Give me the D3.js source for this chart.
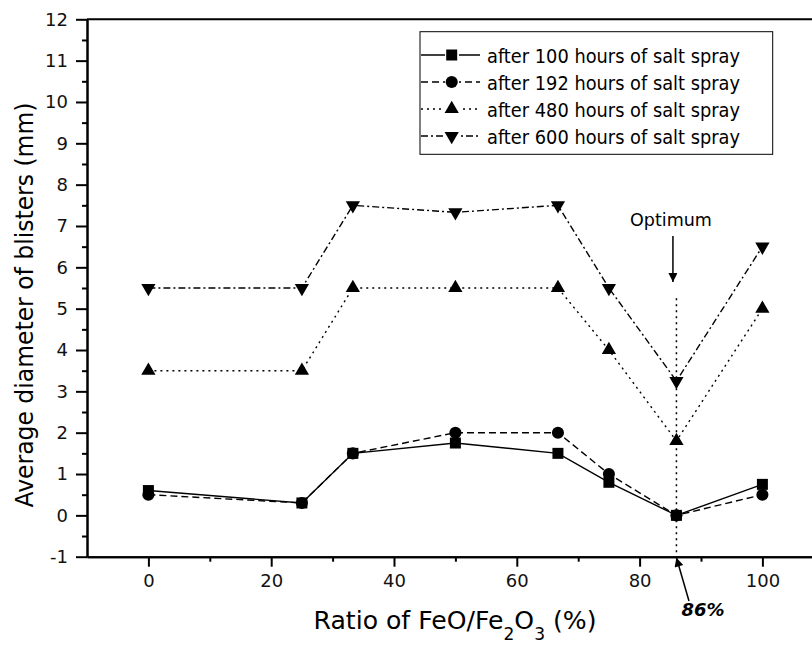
<!DOCTYPE html>
<html>
<head>
<meta charset="utf-8">
<script src="https://cdn.jsdelivr.net/npm/d3@7"></script>
<style>
  body { margin: 0; background: #fff; }
  svg { display: block; font-family: "DejaVu Sans", Verdana, sans-serif; }
</style>
</head>
<body>
<svg id="chart" width="812" height="645"></svg>
<script>
// data
const ratios = [0, 25, 33.3, 50, 66.7, 75, 86, 100];
const h100 = [0.6, 0.3, 1.5, 1.75, 1.5, 0.8, 0, 0.75];
const h192 = [0.5, 0.3, 1.5, 2, 2, 1, 0, 0.5];
const h480 = [3.5, 3.5, 5.5, 5.5, 5.5, 4, 1.8, 5];
const h600 = [5.5, 5.5, 7.5, 7.33, 7.5, 5.5, 3.25, 6.5];
const seriesNames = ["after 100 hours of salt spray", "after 192 hours of salt spray",
                     "after 480 hours of salt spray", "after 600 hours of salt spray"];
const xTicks = [0, 20, 40, 60, 80, 100];
const xMinor = [10, 30, 50, 70, 90];
const yTicks = d3.range(-1, 13);
const yMinor = d3.range(-0.5, 12, 1);
const optimum = 86;

const svg = d3.select('#chart');

// scales
const x = d3.scaleLinear().domain([-10, 110]).range([87, 823.8]);
const y = d3.scaleLinear().domain([-1, 12]).range([556.7, 19.3]);

const series = [
  { name: seriesNames[0], values: h100, dash: null,      sym: d3.symbolSquare,   size: 121, rot: 0 },
  { name: seriesNames[1], values: h192, dash: '7,4',     sym: d3.symbolCircle,   size: 115, rot: 0 },
  { name: seriesNames[2], values: h480, dash: '2,4',     sym: d3.symbolTriangle, size: 88,  rot: 0 },
  { name: seriesNames[3], values: h600, dash: '7,3,2,3', sym: d3.symbolTriangle, size: 88,  rot: 180 }
];

// optimum guide line
svg.append('line')
  .attr('x1', x(optimum)).attr('x2', x(optimum))
  .attr('y1', y(5.25)).attr('y2', y(-1))
  .attr('stroke', '#000').attr('stroke-width', 1.5).attr('stroke-dasharray', '2,4');

const line = d3.line()
  .x((d, i) => x(ratios[i]))
  .y(d => y(d));

// lines, drawn back to front
series.slice().reverse().forEach(s => {
  svg.append('path')
    .attr('d', line(s.values))
    .attr('fill', 'none')
    .attr('stroke', '#000')
    .attr('stroke-width', 1.4)
    .attr('stroke-dasharray', s.dash);
});
series.slice().reverse().forEach(s => {
  svg.append('g').selectAll('path')
    .data(s.values)
    .join('path')
    .attr('d', d3.symbol().type(s.sym).size(s.size))
    .attr('transform', (d, i) => `translate(${x(ratios[i])},${y(d)}) rotate(${s.rot})`)
    .attr('fill', '#000');
});

// axes
const fmt = d => String(d);
svg.append('g')
  .attr('transform', `translate(${x(-10)},0)`)
  .call(d3.axisLeft(y).tickValues(yTicks).tickFormat(fmt).tickSize(11).tickPadding(8).tickSizeOuter(0));
svg.append('g')
  .attr('transform', `translate(${x(-10)},0)`)
  .call(d3.axisLeft(y).tickValues(yMinor).tickSize(5).tickFormat('').tickSizeOuter(0));

svg.append('g')
  .attr('transform', `translate(0,${y(-1)})`)
  .call(d3.axisBottom(x).tickValues(xTicks).tickFormat(fmt).tickSize(10).tickPadding(8).tickSizeOuter(0));
svg.append('g')
  .attr('transform', `translate(0,${y(-1)})`)
  .call(d3.axisBottom(x).tickValues(xMinor).tickSize(5).tickFormat('').tickSizeOuter(0));

svg.selectAll('.domain, .tick line').attr('stroke', '#000').attr('stroke-width', 2);
svg.selectAll('.tick text').attr('font-size', 18).attr('font-family', '"DejaVu Sans", Verdana, sans-serif').attr('fill', '#111');

// top frame line
svg.append('line')
  .attr('x1', x(-10)).attr('x2', x(110))
  .attr('y1', y(12)).attr('y2', y(12))
  .attr('stroke', '#000').attr('stroke-width', 2);

// axis titles
svg.append('text')
  .attr('transform', `translate(33,305) rotate(-90)`)
  .attr('text-anchor', 'middle')
  .attr('font-size', 24)
  .attr('textLength', 405).attr('lengthAdjust', 'spacingAndGlyphs')
  .text('Average diameter of blisters (mm)');

const xt = svg.append('text')
  .attr('x', 455).attr('y', 629)
  .attr('text-anchor', 'middle')
  .attr('font-size', 25)
  .attr('textLength', 283).attr('lengthAdjust', 'spacingAndGlyphs');
xt.append('tspan').text('Ratio of FeO/Fe');
xt.append('tspan').attr('dy', 11).attr('font-size', 17).text('2');
xt.append('tspan').attr('dy', -11).text('O');
xt.append('tspan').attr('dy', 11).attr('font-size', 17).text('3');
xt.append('tspan').attr('dy', -11).text(' (%)');

// arrow head marker
svg.append('defs').append('marker')
  .attr('id', 'arrow')
  .attr('viewBox', '0 0 10 10')
  .attr('refX', 10).attr('refY', 5)
  .attr('markerWidth', 13).attr('markerHeight', 9)
  .attr('markerUnits', 'userSpaceOnUse')
  .attr('orient', 'auto')
  .append('path').attr('d', 'M0,0L10,5L0,10z').attr('fill', '#000');

// Optimum annotation
svg.append('text')
  .attr('x', 671).attr('y', 226)
  .attr('text-anchor', 'middle')
  .attr('font-size', 17.5)
  .text('Optimum');
svg.append('line')
  .attr('x1', x(optimum) - 3.5).attr('x2', x(optimum) - 3.5)
  .attr('y1', 236).attr('y2', 282)
  .attr('stroke', '#000').attr('stroke-width', 1.5)
  .attr('marker-end', 'url(#arrow)');

// 86% annotation
svg.append('line')
  .attr('x1', 689).attr('y1', 601)
  .attr('x2', x(optimum)).attr('y2', y(-1) + 1)
  .attr('stroke', '#000').attr('stroke-width', 1.5)
  .attr('marker-end', 'url(#arrow)');
svg.append('text')
  .attr('x', 703).attr('y', 616)
  .attr('text-anchor', 'middle')
  .attr('font-size', 18).attr('font-weight', 'bold').attr('font-style', 'italic')
  .text(optimum + '%');

// legend
const lg = svg.append('g');
lg.append('rect')
  .attr('x', 420).attr('y', 31.7).attr('width', 352.7).attr('height', 122.6)
  .attr('fill', '#fff').attr('stroke', '#000').attr('stroke-width', 1);
series.forEach((s, i) => {
  const cy = 55 + i * 27;
  lg.append('line')
    .attr('x1', 421).attr('x2', 480).attr('y1', cy).attr('y2', cy)
    .attr('stroke', '#000').attr('stroke-width', 1.4)
    .attr('stroke-dasharray', s.dash);
  lg.append('rect')
    .attr('x', 445).attr('y', cy - 8).attr('width', 14).attr('height', 16).attr('fill', '#fff');
  lg.append('path')
    .attr('d', d3.symbol().type(s.sym).size(s.size))
    .attr('transform', `translate(451.7,${cy}) rotate(${s.rot})`)
    .attr('fill', '#000');
  lg.append('text')
    .attr('x', 487).attr('y', cy + 7.5)
    .attr('font-size', 19)
    .attr('textLength', 253).attr('lengthAdjust', 'spacingAndGlyphs')
    .text(s.name);
});
</script>
</body>
</html>
